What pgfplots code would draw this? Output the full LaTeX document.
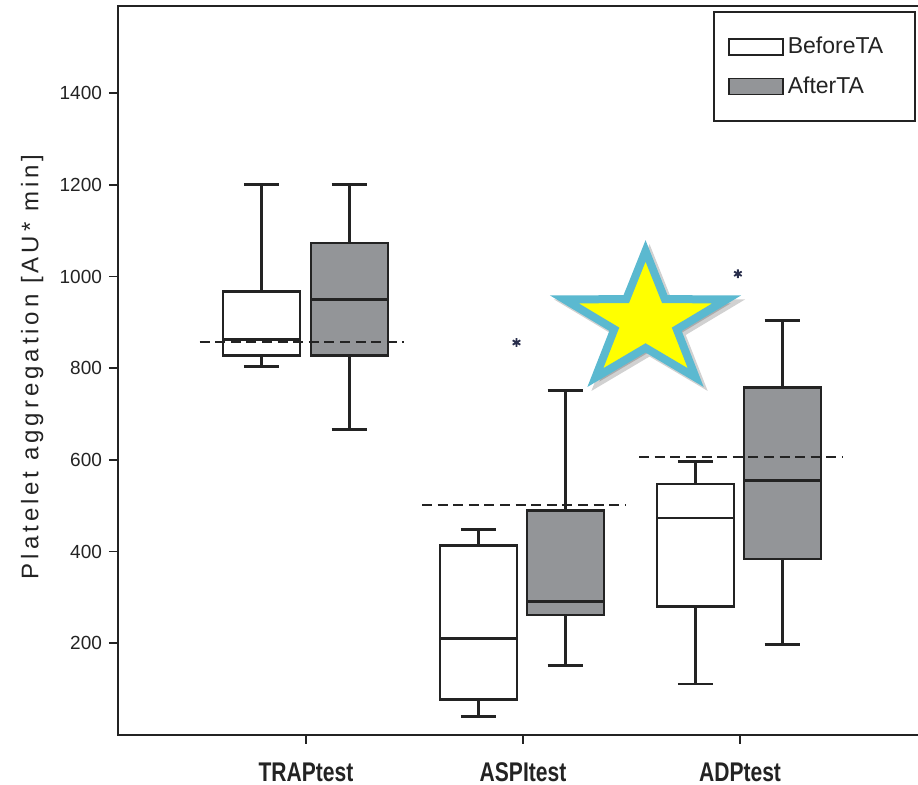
\documentclass[border=0pt]{standalone}
\usepackage{pgfplots}
\pgfplotsset{compat=1.18}
\usetikzlibrary{shapes.geometric}
\usepackage{fontspec}
\setmainfont{Liberation Sans}
\newfontfamily\condfont{Liberation Sans}[FakeStretch=0.78]
\definecolor{boxgray}{RGB}{147,149,152}
\definecolor{ink}{RGB}{35,35,35}
\definecolor{starblue}{RGB}{91,185,208}
\definecolor{starfill}{RGB}{255,255,0}
\definecolor{outl}{RGB}{40,45,75}
\pgfplotsset{bl/.style={forget plot, draw=ink, line width=1.3pt, unbounded coords=jump, mark=none}}
\begin{document}
\begin{tikzpicture}
\begin{axis}[
  at={(0pt,0pt)}, anchor=south west,
  scale only axis, width=401pt, height=364.5pt,
  xmin=0.134, xmax=3.829, ymin=0, ymax=1590,
  xtick={1,2,3}, xticklabels={TRAPtest,ASPItest,ADPtest},
  ytick={200,400,...,1400},
  xtick pos=bottom, ytick pos=left,
  tick align=outside, major tick length=4.5pt,
  axis line style={ink, line width=1.1pt},
  tick style={ink, line width=0.9pt},
  /pgf/number format/assume math mode=true,
  /pgf/number format/1000 sep={},
  yticklabel style={font=\fontsize{9.5}{11}\selectfont, text=ink},
  xticklabel style={font=\condfont\bfseries\fontsize{13.5}{15}\selectfont, text=ink, yshift=-6pt},
  ylabel={Platelet aggregation [AU* min]},
  ylabel style={at={(axis description cs:-0.107,0.505)}, anchor=center,
    font=\fontsize{12}{14}\selectfont\addfontfeature{LetterSpace=16.5}, text=ink},
  legend image code/.code={\draw[#1] (0pt,-4pt) rectangle (27pt,4pt);},
  legend style={at={(axis description cs:0.742,0.993)}, anchor=north west,
    draw=ink, line width=0.9pt, inner xsep=7pt, inner ysep=10.5pt, row sep=6pt,
    font=\fontsize{11.5}{13}\selectfont, text=ink, cells={anchor=west}},
]
\addlegendimage{draw=ink, line width=0.9pt, fill=white}
\addlegendentry{BeforeTA\hspace*{7pt}}
\addlegendimage{draw=ink, line width=0.9pt, fill=boxgray}
\addlegendentry{AfterTA}

% ---- TRAPtest, before: whiskers 804/1200, quartiles 828/967, median 862
\addplot[bl, fill=white] coordinates {(0.6175,828) (0.9725,828) (0.9725,967) (0.6175,967)} -- cycle;
\addplot[bl] coordinates {(0.6175,862) (0.9725,862) (0.795,nan)
  (0.795,828) (0.795,804) (0.795,nan) (0.7135,804) (0.8765,804) (0.795,nan)
  (0.795,967) (0.795,1200) (0.795,nan) (0.7135,1200) (0.8765,1200)};
% ---- TRAPtest, after: whiskers 666/1200, quartiles 828/1073, median 950
\addplot[bl, fill=boxgray] coordinates {(1.0225,828) (1.3775,828) (1.3775,1073) (1.0225,1073)} -- cycle;
\addplot[bl] coordinates {(1.0225,950) (1.3775,950) (1.2,nan)
  (1.2,828) (1.2,666) (1.2,nan) (1.1185,666) (1.2815,666) (1.2,nan)
  (1.2,1073) (1.2,1200) (1.2,nan) (1.1185,1200) (1.2815,1200)};
% ---- ASPItest, before: whiskers 40/448, quartiles 77/413, median 210
\addplot[bl, fill=white] coordinates {(1.6175,77) (1.9725,77) (1.9725,413) (1.6175,413)} -- cycle;
\addplot[bl] coordinates {(1.6175,210) (1.9725,210) (1.795,nan)
  (1.795,77) (1.795,40) (1.795,nan) (1.7135,40) (1.8765,40) (1.795,nan)
  (1.795,413) (1.795,448) (1.795,nan) (1.7135,448) (1.8765,448)};
% ---- ASPItest, after: whiskers 152/752, quartiles 262/490, median 291
\addplot[bl, fill=boxgray] coordinates {(2.0175,262) (2.3725,262) (2.3725,490) (2.0175,490)} -- cycle;
\addplot[bl] coordinates {(2.0175,291) (2.3725,291) (2.195,nan)
  (2.195,262) (2.195,152) (2.195,nan) (2.1135,152) (2.2765,152) (2.195,nan)
  (2.195,490) (2.195,752) (2.195,nan) (2.1135,752) (2.2765,752)};
% ---- ADPtest, before: whiskers 111/596, quartiles 280/547, median 473
\addplot[bl, fill=white] coordinates {(2.6175,280) (2.9725,280) (2.9725,547) (2.6175,547)} -- cycle;
\addplot[bl] coordinates {(2.6175,473) (2.9725,473) (2.795,nan)
  (2.795,280) (2.795,111) (2.795,nan) (2.7135,111) (2.8765,111) (2.795,nan)
  (2.795,547) (2.795,596) (2.795,nan) (2.7135,596) (2.8765,596)};
% ---- ADPtest, after: whiskers 198/904, quartiles 384/758, median 555
\addplot[bl, fill=boxgray] coordinates {(3.0175,384) (3.3725,384) (3.3725,758) (3.0175,758)} -- cycle;
\addplot[bl] coordinates {(3.0175,555) (3.3725,555) (3.195,nan)
  (3.195,384) (3.195,198) (3.195,nan) (3.1135,198) (3.2765,198) (3.195,nan)
  (3.195,758) (3.195,904) (3.195,nan) (3.1135,904) (3.2765,904)};

% reference lines
\addplot[forget plot, ink, line width=1.2pt, dash pattern=on 5pt off 2.8pt] coordinates {(0.51,857) (1.45,857)};
\addplot[forget plot, ink, line width=1.2pt, dash pattern=on 5pt off 2.8pt] coordinates {(1.535,502) (2.47,502)};
\addplot[forget plot, ink, line width=1.2pt, dash pattern=on 5pt off 2.8pt] coordinates {(2.535,606) (3.47,606)};

% outliers
\addplot[forget plot, only marks, mark=asterisk, mark size=2.2pt, outl, line width=0.9pt] coordinates {(1.97,856) (2.99,1006)};

\coordinate (starc) at (axis cs:2.5645,903);
\end{axis}
% star annotation
\node[star, star points=5, star point ratio=2.6, minimum size=70pt, inner sep=0pt,
  xscale=1.22, fill=black, opacity=0.18, line width=4pt, draw=black]
  at ([shift={(2pt,-2pt)}]starc) {};
\node[star, star points=5, star point ratio=2.6, minimum size=70pt, inner sep=0pt,
  xscale=1.22, fill=starfill, draw=starblue, line width=4pt, miter limit=10]
  at (starc) {};
\pgfresetboundingbox
\path[use as bounding box] (-59pt,-25pt) rectangle (400pt,367.5pt);
\end{tikzpicture}
\end{document}
